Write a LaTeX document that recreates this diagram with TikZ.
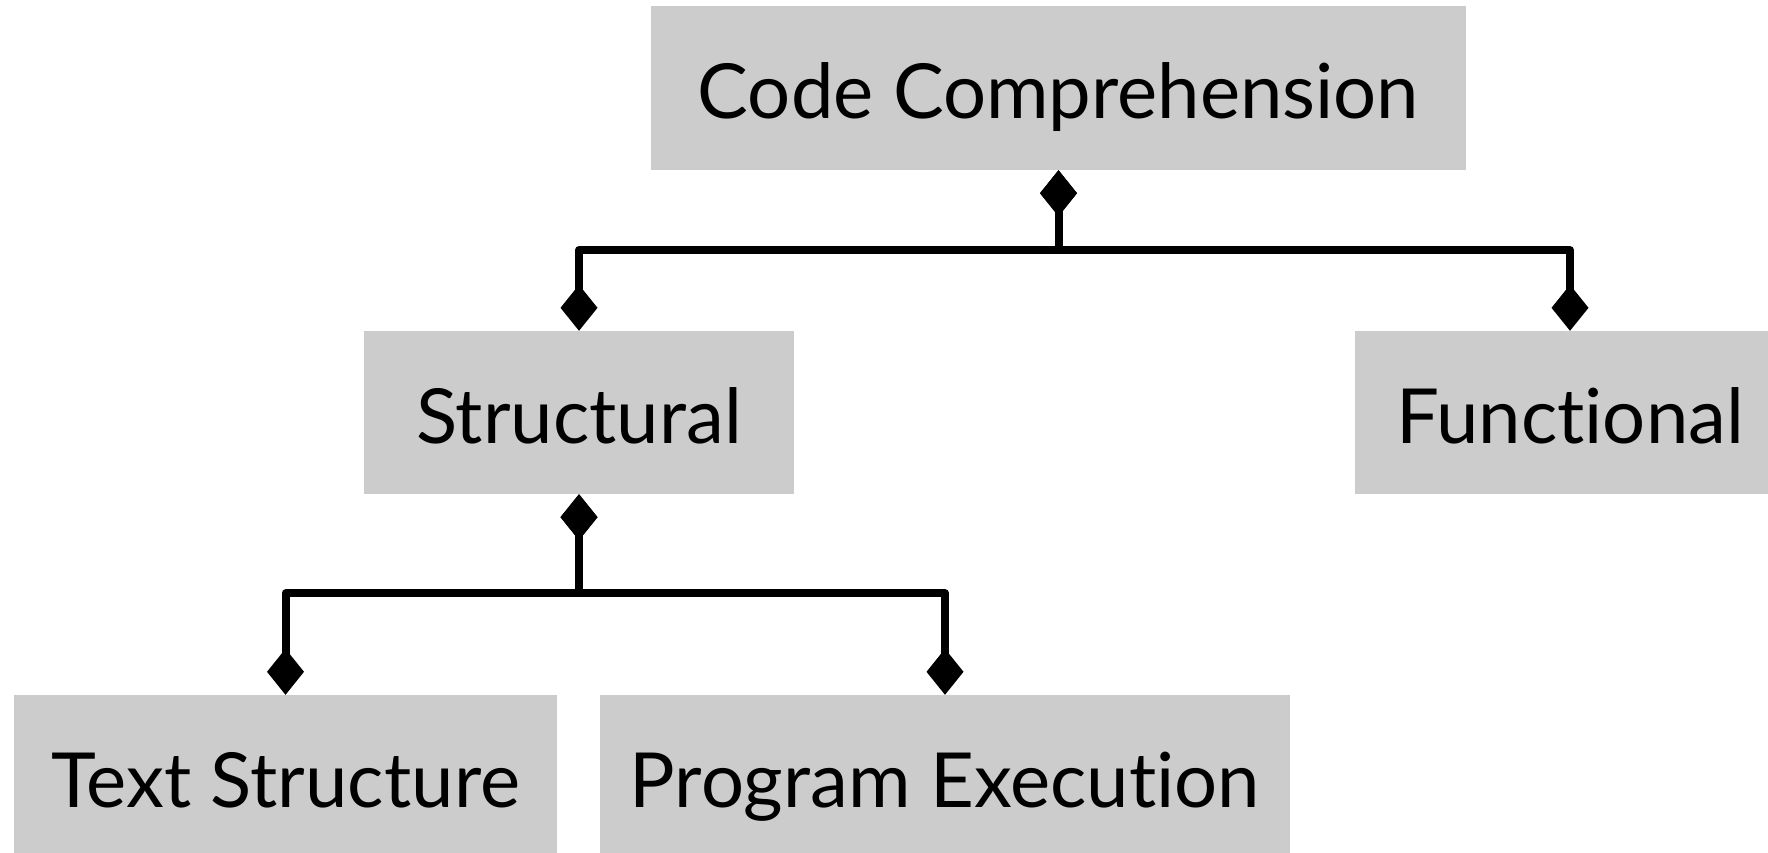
\documentclass[tikz,border=0pt]{standalone}
\usepackage{fontspec}
\setmainfont{Lato}[Ligatures=NoCommon]
\usetikzlibrary{arrows.meta}
\begin{document}
\begin{tikzpicture}[x=1pt, y=-1pt,
    box/.style={fill=black!20, inner sep=0pt, minimum height=163pt,
        text height=61pt, text depth=0pt, font=\fontsize{76}{92}\selectfont},
    link/.style={line width=8pt, line join=round,
        {Diamond[length=46pt,width=37pt]}-{Diamond[length=46pt,width=37pt]}}]
    % Canvas
    \clip (0,0) rectangle (1768,853);
    % Top level
    \node[box, minimum width=815pt, minimum height=164pt] (comp) at (1058.5,88) {Code Comprehension};
    % Second level
    \node[box, minimum width=430pt] (struct) at (579,412.5) {Structural};
    \node[box, minimum width=430pt] (func) at (1570,412.5) {Functional};
    % Third level
    \node[box, minimum width=543pt] (text) at (285.5,776.5) {Text Structure};
    \node[box, minimum width=690pt] (prog) at (945,776.5) {Program Execution};
    % Links
    \draw[link] (comp.south) -- ++(0,80) -| (struct.north);
    \draw[link] (comp.south) -- ++(0,80) -| (func.north);
    \draw[link] (struct.south) -- ++(0,99) -| (text.north);
    \draw[link] (struct.south) -- ++(0,99) -| (prog.north);
\end{tikzpicture}
\end{document}
